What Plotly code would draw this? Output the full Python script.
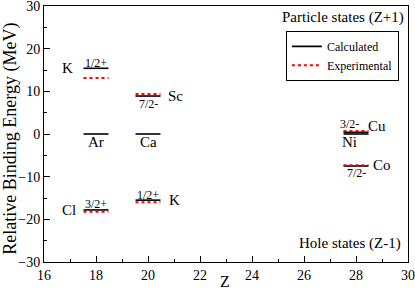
import plotly.graph_objects as go

# Data
calc_Z = [18, 20, 18, 20, 28, 28, 18, 20, 28]
calc_E = [15.4, 8.9, 0.0, 0.0, 0.0, 0.4, -17.8, -15.5, -7.5]
exp_Z = [18, 20, 28, 18, 20, 28]
exp_E = [13.1, 9.4, 0.7, -18.2, -16.0, -7.3]

half_width = 0.48

def segs(zs, es):
    xs, ys = [], []
    for z, e in zip(zs, es):
        xs += [z - half_width, z + half_width, None]
        ys += [e, e, None]
    return xs, ys

cx, cy = segs(calc_Z, calc_E)
ex, ey = segs(exp_Z, exp_E)

FONT = "Liberation Serif"

fig = go.Figure()
fig.add_trace(go.Scatter(x=cx, y=cy, mode="lines", name="Calculated",
                         line=dict(color="black", width=1.6)))
fig.add_trace(go.Scatter(x=ex, y=ey, mode="lines", name="Experimental",
                         line=dict(color="red", width=2, dash="dot")))

# labels: (text, Z, E, size)
labels = [
    ("K", 16.9, 15.4, 15), ("1/2+", 18.0, 16.7, 12),
    ("7/2-", 20.0, 7.0, 12), ("Sc", 21.05, 8.9, 15),
    ("Ar", 18.0, -1.8, 15), ("Ca", 20.0, -1.8, 15),
    ("Cl", 16.95, -17.9, 15), ("3/2+", 18.0, -16.4, 12),
    ("1/2+", 20.0, -14.2, 12), ("K", 21.0, -15.4, 15),
    ("3/2-", 27.76, 2.3, 12), ("Cu", 28.8, 1.9, 15),
    ("Ni", 27.75, -1.8, 15), ("Co", 29.0, -7.3, 15),
    ("7/2-", 28.0, -9.1, 12),
]
annotations = []
for t, x, y, s in labels:
    annotations.append(dict(text=t, x=x, y=y, xref="x", yref="y", showarrow=False,
                            font=dict(family=FONT, size=s, color="black"),
                            xanchor="center", yanchor="middle"))
annotations.append(dict(text="Particle states (Z+1)", x=0.995, y=0.955, xref="paper", yref="paper",
                        showarrow=False, xanchor="right", yanchor="middle",
                        font=dict(family=FONT, size=15, color="black")))
annotations.append(dict(text="Hole states (Z-1)", x=0.987, y=0.074, xref="paper", yref="paper",
                        showarrow=False, xanchor="right", yanchor="middle",
                        font=dict(family=FONT, size=15, color="black")))
annotations.append(dict(text="Z", x=0.497, y=-0.078, xref="paper", yref="paper",
                        showarrow=False, xanchor="center", yanchor="middle",
                        font=dict(family=FONT, size=16, color="black")))
annotations.append(dict(text="Relative Binding Energy (MeV)", x=-0.092, y=0.48,
                        xref="paper", yref="paper", textangle=-90,
                        showarrow=False, xanchor="center", yanchor="middle",
                        font=dict(family=FONT, size=18, color="black")))

axis_common = dict(showgrid=False, zeroline=False, showline=True, linecolor="black",
                   linewidth=1, mirror=True, ticks="inside", ticklen=6, tickcolor="black",
                   tickfont=dict(family=FONT, size=14, color="black"),
                   automargin=False, ticklabeloverflow="allow",
                   minor=dict(ticks="inside", ticklen=3, tickcolor="black"))

fig.update_layout(
    width=415, height=291,
    margin=dict(l=44, r=7, t=6, b=29),
    paper_bgcolor="white", plot_bgcolor="white",
    showlegend=True,
    legend=dict(x=0.975, y=0.903, xanchor="right", yanchor="top",
                bordercolor="black", borderwidth=1, bgcolor="white",
                font=dict(family=FONT, size=12, color="black"),
                tracegroupgap=0, itemwidth=30),
    annotations=annotations,
    xaxis=dict(range=[16, 30], dtick=2, tick0=16, **axis_common),
    yaxis=dict(range=[-30, 30], dtick=10, tick0=0, **axis_common),
)
fig.update_xaxes(minor=dict(dtick=1))
fig.update_yaxes(minor=dict(dtick=5))

fig.write_html("out.html", config={"displayModeBar": False},
               post_script="document.body.style.margin='0';document.body.style.padding='0';")
